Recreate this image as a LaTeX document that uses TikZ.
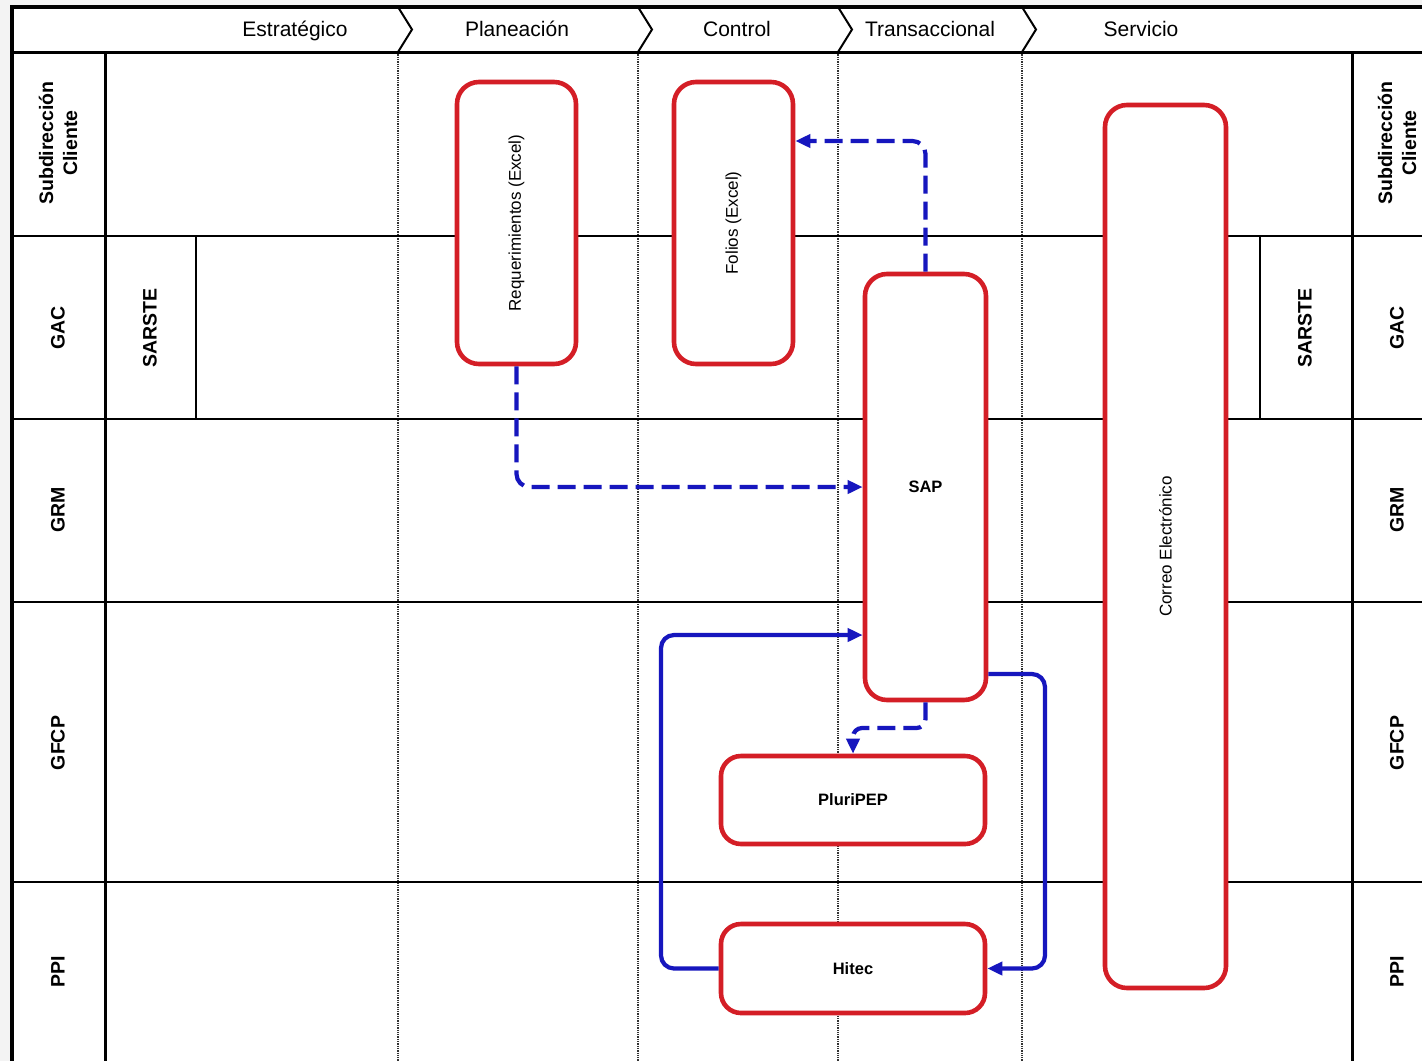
\documentclass[tikz,border=0pt]{standalone}
\usepackage{fontspec}
\setmainfont{Liberation Sans}
\usetikzlibrary{arrows.meta}
\definecolor{boxred}{RGB}{212,30,38}
\definecolor{flowblue}{RGB}{22,22,190}
\definecolor{marginbg}{RGB}{243,243,243}
\begin{document}
\begin{tikzpicture}[x=1pt,y=-1pt,
  lane/.style={line width=2.7pt},
  hdr/.style={font=\fontsize{21}{24}\selectfont, inner sep=0pt, anchor=base},
  lanelbl/.style={rotate=90, font=\bfseries\fontsize{19.5}{24}\selectfont, align=center, inner sep=0pt},
  box/.style={draw=boxred, line width=4.6pt, fill=white, rounded corners=22pt, inner sep=0pt},
  boxtxt/.style={font=\fontsize{17}{20}\selectfont},
  boldtxt/.style={font=\bfseries\fontsize{16.5}{20}\selectfont},
  flow/.style={draw=flowblue, line width=4.2pt, rounded corners=13pt, -{Triangle[length=15pt,width=13pt]}},
  dflow/.style={flow, dash pattern=on 18pt off 8pt},
]
\useasboundingbox (0,0) rectangle (1422,1061);
\fill[marginbg] (0,0) rectangle (1422,1061);
\fill[white] (12,7) rectangle (1422,1061);

% dotted phase separators
\foreach \x in {398,638,838,1022}
  \draw[densely dotted, line width=1.3pt, black!80] (\x,52) -- (\x,1061);

% lanes
\draw[lane] (12,236) -- (1422,236);
\draw[lane] (12,419) -- (1422,419);
\draw[line width=1.6pt] (12,602) -- (1422,602);
\draw[lane] (12,882) -- (1422,882);
\draw[line width=3pt] (105,52) -- (105,1061);
\draw[line width=3pt] (1352,52) -- (1352,1061);
\draw[line width=2.5pt] (196,236) -- (196,419);
\draw[line width=2.5pt] (1260,236) -- (1260,419);

% header
\draw[line width=3pt] (12,52) -- (1422,52);
\draw[line width=3.6pt] (1422,7) -- (12,7) -- (12,1061);
\foreach \x in {398,638,838,1022}
  \draw[line width=2pt, line join=miter] (\x,7) -- (\x+14,29.5) -- (\x,52);

\node[hdr] (hEst) at (295,36.5) {Estratégico};
\node[hdr] (hPla) at (517,36.5) {Planeación};
\node[hdr] (hCon) at (737,36.5) {Control};
\node[hdr] (hTra) at (930,36.5) {Transaccional};
\node[hdr] (hSer) at (1141,36.5) {Servicio};

% lane labels left
\node[lanelbl] (lSubL) at (58,143) {Subdirección\\Cliente};
\node[lanelbl] (lGacL) at (58,328) {GAC};
\node[lanelbl] (lGrmL) at (58,510) {GRM};
\node[lanelbl] (lGfcpL) at (58,743) {GFCP};
\node[lanelbl] (lPpiL) at (58,972) {PPI};
\node[lanelbl] (lSarL) at (150,328) {SARSTE};
% lane labels right
\node[lanelbl] (lSubR) at (1397,143) {Subdirección\\Cliente};
\node[lanelbl] (lGacR) at (1397,328) {GAC};
\node[lanelbl] (lGrmR) at (1397,510) {GRM};
\node[lanelbl] (lGfcpR) at (1397,743) {GFCP};
\node[lanelbl] (lPpiR) at (1397,972) {PPI};
\node[lanelbl] (lSarR) at (1305,328) {SARSTE};

% boxes
\node[box, minimum width=119, minimum height=282,
  label={[rotate=90, boxtxt]center:Requerimientos (Excel)}] (req) at (516.5,223) {};
\node[box, minimum width=119, minimum height=282,
  label={[rotate=90, boxtxt]center:Folios (Excel)}] (fol) at (733.5,223) {};
\node[box, minimum width=121, minimum height=426, boldtxt] (sap) at (925.5,487) {SAP};
\node[box, minimum width=121, minimum height=883,
  label={[rotate=90, boxtxt]center:Correo Electrónico}] (cor) at (1165.5,546.5) {};
\node[box, minimum width=264, minimum height=88, rounded corners=20pt, boldtxt] (plu) at (853,800) {PluriPEP};
\node[box, minimum width=264, minimum height=89, rounded corners=20pt, boldtxt] (hit) at (853,968.5) {Hitec};

% connectors
\draw[dflow] (req.south) |- (sap.west);
\draw[dflow] (sap.north) |- (fol.east |- 0,141);
\draw[dflow, rounded corners=9pt] (sap.south) -- (sap.south |- 0,728) -| (plu.north);
\draw[flow] (hit.west) -| (661,800) |- (sap.west |- 0,635);
\draw[flow] (sap.east |- 0,674) -| (1045,800) |- (hit.east);
\end{tikzpicture}
\end{document}
